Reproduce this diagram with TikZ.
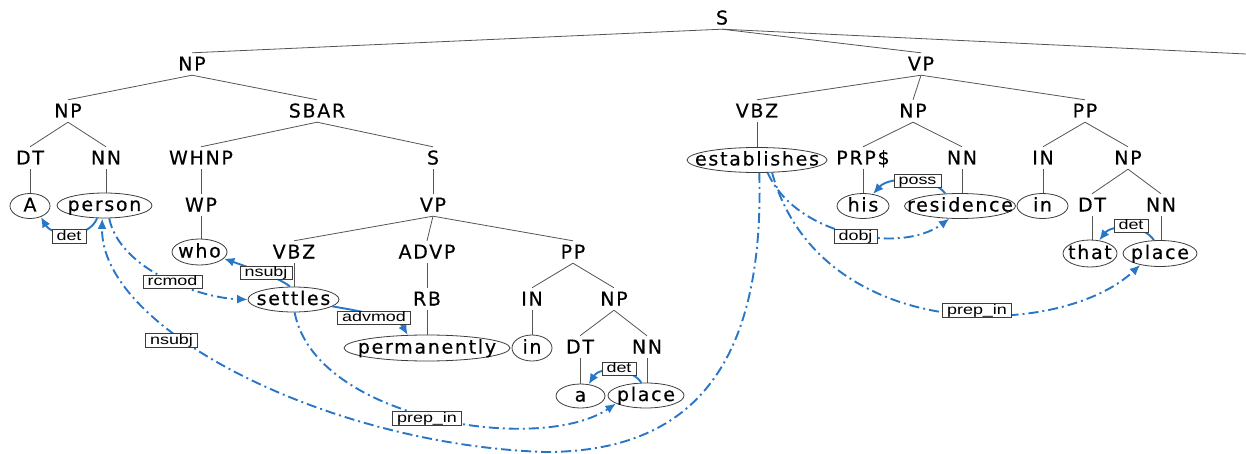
\documentclass[tikz,border=0pt]{standalone}
\usepackage{fontspec}
\setmainfont{DejaVu Sans}
\newfontfamily\treefont[LetterSpace=9,FakeBold=0.4]{DejaVu Sans}
\newfontfamily\lblfont[FakeStretch=1.3]{Liberation Sans}
\usetikzlibrary{shapes.geometric,arrows.meta}
\definecolor{depblue}{RGB}{40,118,198}
\definecolor{treegray}{RGB}{85,85,85}
\definecolor{boxgray}{RGB}{60,60,60}
\newcommand{\leaftext}[1]{\smash{\makebox[0pt]{\raisebox{-5.5pt}{#1}}}}
\begin{document}
\begin{tikzpicture}[x=1pt,y=-1pt,
  cat/.style={inner xsep=0pt, inner ysep=4.5pt, text height=13pt, text depth=0pt,
              font=\treefont\fontsize{19}{21}\selectfont},
  leaf/.style n args={2}{ellipse, draw=boxgray, line width=0.8pt, inner sep=0pt,
              minimum width=#1, minimum height=#2, font=\treefont\fontsize{19}{21}\selectfont},
  tree/.style={draw=treegray, line width=0.8pt},
  lbl/.style={draw=boxgray, fill=white, line width=0.7pt, inner xsep=4.5pt, inner ysep=0.5pt,
              text height=10pt, text depth=2.5pt, font=\lblfont\fontsize{13.8}{15}\selectfont},
  dep/.style={draw=depblue, line width=1.9pt, -{Latex[length=10.5pt,width=9pt]}},
  depdash/.style={dep, dash pattern=on 10pt off 4pt on 2pt off 4pt}
]
\useasboundingbox (0,0) rectangle (1246,454);

% constituent nodes
\node[cat] (S) at (722,18) {S};
\node[cat] (np1) at (192,64) {NP};
\node[cat] (vp1) at (921,64) {VP};
\coordinate (offr) at (1246,54);
\node[cat] (np2) at (68,111) {NP};
\node[cat] (sbar) at (317,111) {SBAR};
\node[cat] (dt1) at (30,158) {DT};
\node[cat] (nn1) at (106,158) {NN};
\node[cat] (whnp) at (201,158) {WHNP};
\node[cat] (s2) at (433,158) {S};
\node[cat] (wp) at (201,205) {WP};
\node[cat] (vp2) at (433,205) {VP};
\node[cat] (vbz1) at (294,252) {VBZ};
\node[cat] (advp) at (427,252) {ADVP};
\node[cat] (pp1) at (573,252) {PP};
\node[cat] (rb) at (427,299) {RB};
\node[cat] (in1c) at (532,299) {IN};
\node[cat] (np3) at (614,299) {NP};
\node[cat] (dt2) at (580,347) {DT};
\node[cat] (nn2) at (647,347) {NN};
\node[cat] (vbz2) at (757,111) {VBZ};
\node[cat] (np4) at (913,111) {NP};
\node[cat] (pp2) at (1085,111) {PP};
\node[cat] (prp) at (863,158) {PRP\$};
\node[cat] (nn3) at (962,158) {NN};
\node[cat] (in2c) at (1043,158) {IN};
\node[cat] (np5) at (1128,158) {NP};
\node[cat] (dt3) at (1092,205) {DT};
\node[cat] (nn4) at (1161,205) {NN};

% leaves
\node[leaf={40pt}{25pt}] (A) at (30,206) {\leaftext{A}};
\node[leaf={95pt}{25pt}] (person) at (104.5,205.5) {\leaftext{person}};
\node[leaf={55pt}{26pt}] (who) at (199.5,252) {\leaftext{who}};
\node[leaf={91pt}{25pt}] (settles) at (293.5,299.5) {\leaftext{settles}};
\node[leaf={166pt}{26pt}] (permanently) at (427,348) {\leaftext{permanently}};
\node[leaf={40pt}{26pt}] (in1) at (532,348) {\leaftext{in}};
\node[leaf={49pt}{24pt}] (a) at (580.5,396) {\leaftext{a}};
\node[leaf={76pt}{25pt}] (place1) at (646,395.5) {\leaftext{place}};
\node[leaf={140pt}{25pt}] (establishes) at (757,160) {\leaftext{establishes}};
\node[leaf={52pt}{25pt}] (his) at (863,206) {\leaftext{his}};
\node[leaf={111pt}{25pt}] (residence) at (960,206) {\leaftext{residence}};
\node[leaf={51pt}{25pt}] (in2) at (1042.5,206) {\leaftext{in}};
\node[leaf={54pt}{27pt}] (that) at (1090,253.5) {\leaftext{that}};
\node[leaf={74pt}{26pt}] (place2) at (1160,253.5) {\leaftext{place}};

% tree lines
\draw[tree] (S.south) -- (np1.north);
\draw[tree] (S.south) -- (vp1.north);
\draw[tree] (S.south) -- (offr);
\draw[tree] (np1.south) -- (np2.north);
\draw[tree] (np1.south) -- (sbar.north);
\draw[tree] (np2.south) -- (dt1.north);
\draw[tree] (np2.south) -- (nn1.north);
\draw[tree] (dt1.south) -- (dt1.south |- A.north);
\draw[tree] (nn1.south) -- (nn1.south |- person.north);
\draw[tree] (sbar.south) -- (whnp.north);
\draw[tree] (sbar.south) -- (s2.north);
\draw[tree] (whnp.south) -- (wp.north);
\draw[tree] (wp.south) -- (wp.south |- who.north);
\draw[tree] (s2.south) -- (vp2.north);
\draw[tree] (vp2.south) -- (vbz1.north);
\draw[tree] (vp2.south) -- (advp.north);
\draw[tree] (vp2.south) -- (pp1.north);
\draw[tree] (vbz1.south) -- (vbz1.south |- settles.north);
\draw[tree] (advp.south) -- (rb.north);
\draw[tree] (rb.south) -- (rb.south |- permanently.north);
\draw[tree] (pp1.south) -- (in1c.north);
\draw[tree] (pp1.south) -- (np3.north);
\draw[tree] (in1c.south) -- (in1c.south |- in1.north);
\draw[tree] (np3.south) -- (dt2.north);
\draw[tree] (np3.south) -- (nn2.north);
\draw[tree] (dt2.south) -- (dt2.south |- a.north);
\draw[tree] (nn2.south) -- (nn2.south |- place1.north);
\draw[tree] (vp1.south) -- (vbz2.north);
\draw[tree] (vp1.south) -- (np4.north);
\draw[tree] (vp1.south) -- (pp2.north);
\draw[tree] (vbz2.south) -- (vbz2.south |- establishes.north);
\draw[tree] (np4.south) -- (prp.north);
\draw[tree] (np4.south) -- (nn3.north);
\draw[tree] (prp.south) -- (prp.south |- his.north);
\draw[tree] (nn3.south) -- (nn3.south |- residence.north);
\draw[tree] (pp2.south) -- (in2c.north);
\draw[tree] (pp2.south) -- (np5.north);
\draw[tree] (in2c.south) -- (in2c.south |- in2.north);
\draw[tree] (np5.south) -- (dt3.north);
\draw[tree] (np5.south) -- (nn4.north);
\draw[tree] (dt3.south) -- (dt3.south |- that.north);
\draw[tree] (nn4.south) -- (nn4.south |- place2.north);

% dependency arcs
\draw[dep] (person.-120) .. controls (88,240) and (52,236) .. (A.-45);
\draw[depdash] (person.-70) .. controls (120,270) and (200,298) .. (settles.180);
\draw[dep] (settles.105) .. controls (280,278) and (250,268) .. (who.-15);
\draw[dep] (settles.-10) .. controls (365,312) and (398,318) .. (permanently.146);
\draw[depdash] (settles.-85) .. controls (315,420) and (540,455) .. (place1.-165);
\draw[dep] (place1.110) .. controls (632,368) and (600,366) .. (a.55);
\draw[depdash] (establishes.-80) .. controls (765,380) and (680,452) .. (545,452)
   .. controls (330,445) and (100,330) .. (person.-100);
\draw[depdash] (establishes.-50) .. controls (795,235) and (900,255) .. (residence.-130);
\draw[dep] (residence.140) .. controls (935,178) and (890,175) .. (his.50);
\draw[depdash] (establishes.-40) .. controls (820,345) and (1060,340) .. (place2.-150);
\draw[dep] (place2.115) .. controls (1145,225) and (1112,224) .. (that.55);

% labels
\node[lbl] (l1) at (69,236.5) {det};
\node[lbl] (l2) at (172.5,282) {rcmod};
\node[lbl] (l3) at (171.5,340.5) {nsubj};
\node[lbl] (l4) at (266,273) {nsubj};
\node[lbl] (l5) at (374,318) {advmod};
\node[lbl] (l6) at (427,418.5) {prep\_in};
\node[lbl] (l7) at (619,369) {det};
\node[lbl] (l8) at (855.5,236.5) {dobj};
\node[lbl] (l9) at (917.5,181) {poss};
\node[lbl] (l10) at (977,310.5) {prep\_in};
\node[lbl] (l11) at (1131,226) {det};
\end{tikzpicture}
\end{document}
